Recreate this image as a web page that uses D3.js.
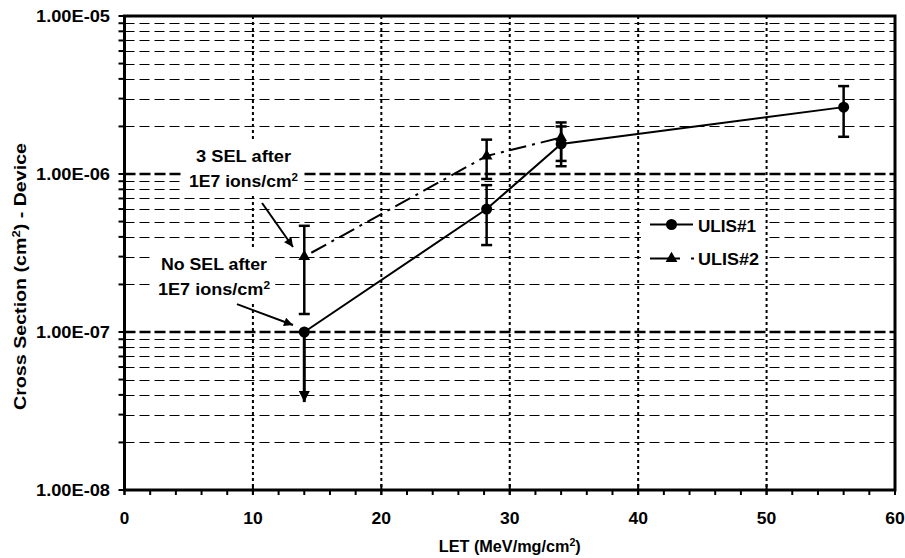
<!DOCTYPE html>
<html>
<head>
<meta charset="utf-8">
<script src="https://cdn.jsdelivr.net/npm/d3@7"></script>
<style>
  html, body { margin: 0; padding: 0; background: #fff; }
  svg { display: block; }
  text { font-family: "Liberation Sans", Arial, sans-serif; font-weight: bold; fill: #000; }
</style>
</head>
<body>
<svg id="chart" width="905" height="558"></svg>
<script>
// ---------------- DATA ----------------
const ulis1Let = [14, 28.2, 34, 56];
const ulis1Cs = [1e-7, 6e-7, 1.55e-6, 2.65e-6];
const ulis1ErrHi = [null, 8.5e-7, 2.12e-6, 3.6e-6];
const ulis1ErrLo = [3.6e-8, 3.55e-7, 1.12e-6, 1.72e-6];
const ulis1LoArrow = [true, false, false, false];

const ulis2Let = [14, 28.2, 34];
const ulis2Cs = [3e-7, 1.3e-6, 1.7e-6];
const ulis2ErrHi = [4.7e-7, 1.65e-6, 2.0e-6];
const ulis2ErrLo = [1.3e-7, 9.3e-7, 1.21e-6];

const seriesNames = ["ULIS#1", "ULIS#2"];

const xTicks = [0, 10, 20, 30, 40, 50, 60];
const xMinorTicks = d3.range(0, 61, 2);
const yTicks = [1e-8, 1e-7, 1e-6, 1e-5];
const yTickLabels = ["1.00E-08", "1.00E-07", "1.00E-06", "1.00E-05"];
const yMinorTicks = [1e-8, 1e-7, 1e-6].flatMap(d => d3.range(2, 10).map(k => k * d));

const xTitle = ["LET (MeV/mg/cm", "2", ")"];
const yTitle = ["Cross Section (cm", "2", ") - Device"];

// annotations: text lines, anchor in data space, arrow from/to in data space
const annotations = [
  { line1: "3 SEL after", line2: "1E7 ions/cm", sup: "2", x: 9.27, y: 1.19e-6,
    w1: 95, w2: 109, from: [10.71, 6.55e-7], to: [13.12, 3.45e-7] },
  { line1: "No SEL after", line2: "1E7 ions/cm", sup: "2", x: 6.97, y: 2.47e-7,
    w1: 106, w2: 112, from: [8.76, 1.5e-7], to: [13.12, 1.107e-7] }
];

// ---------------- LAYOUT ----------------
const svg = d3.select("#chart");
const L = 124.5, R = 895, T = 16, B = 490;
const x = d3.scaleLinear().domain([0, 60]).range([L, R]);
const y = d3.scaleLog().domain([1e-8, 1e-5]).range([B, T]);

function stretch(sel, w) {
  sel.attr("textLength", w).attr("lengthAdjust", "spacingAndGlyphs");
  return sel;
}

const defs = svg.append("defs");
defs.append("marker").attr("id", "arrow")
  .attr("viewBox", "0 0 10 10").attr("refX", 10).attr("refY", 5)
  .attr("markerUnits", "userSpaceOnUse").attr("markerWidth", 11).attr("markerHeight", 9)
  .attr("orient", "auto")
  .append("path").attr("d", "M0,0 L10,5 L0,10 Z").attr("fill", "#000");
defs.append("marker").attr("id", "arrowBig")
  .attr("viewBox", "0 0 10 10").attr("refX", 10).attr("refY", 5)
  .attr("markerUnits", "userSpaceOnUse").attr("markerWidth", 12).attr("markerHeight", 11)
  .attr("orient", "auto")
  .append("path").attr("d", "M0,0 L10,5 L0,10 Z").attr("fill", "#000");

svg.append("rect").attr("width", 905).attr("height", 558).attr("fill", "#fff");

// minor horizontal gridlines
svg.append("g").selectAll("line").data(yMinorTicks).join("line")
  .attr("x1", L).attr("x2", R)
  .attr("y1", d => Math.round(y(d)) + 0.5).attr("y2", d => Math.round(y(d)) + 0.5)
  .attr("stroke", "#000").attr("stroke-width", 1).attr("stroke-dasharray", "10,5");

// major horizontal gridlines
svg.append("g").selectAll("line").data(yTicks.slice(1, 3)).join("line")
  .attr("x1", L).attr("x2", R)
  .attr("y1", d => y(d)).attr("y2", d => y(d))
  .attr("stroke", "#000").attr("stroke-width", 2.5).attr("stroke-dasharray", "11,4");

// vertical gridlines (dotted)
svg.append("g").selectAll("line").data(xTicks.slice(1, -1)).join("line")
  .attr("x1", d => x(d)).attr("x2", d => x(d))
  .attr("y1", T).attr("y2", B)
  .attr("stroke", "#000").attr("stroke-width", 2).attr("stroke-dasharray", "3,3");

// legend background
svg.append("rect").attr("x", 641).attr("y", 211).attr("width", 124).attr("height", 62).attr("fill", "#fff");
// annotation backgrounds layer
const annoBg = svg.append("g");

// x axis ticks
svg.append("g").selectAll("line").data(xMinorTicks).join("line")
  .attr("x1", d => x(d)).attr("x2", d => x(d))
  .attr("y1", B).attr("y2", B + 5)
  .attr("stroke", "#000").attr("stroke-width", 2);
svg.append("g").selectAll("line").data(xTicks).join("line")
  .attr("x1", d => x(d)).attr("x2", d => x(d))
  .attr("y1", B - 6).attr("y2", B + 5)
  .attr("stroke", "#000").attr("stroke-width", 2);

// y axis ticks
svg.append("g").selectAll("line").data(yMinorTicks.concat(yTicks)).join("line")
  .attr("x1", L - 6).attr("x2", L)
  .attr("y1", d => y(d)).attr("y2", d => y(d))
  .attr("stroke", "#000").attr("stroke-width", 2);

// frame
svg.append("rect").attr("x", L).attr("y", T).attr("width", R - L).attr("height", B - T)
  .attr("fill", "none").attr("stroke", "#000").attr("stroke-width", 3);

// tick labels
const xLab = svg.append("g").selectAll("text").data(xTicks).join("text")
  .attr("x", d => x(d)).attr("y", 524).attr("text-anchor", "middle")
  .attr("font-size", 16).text(d => d);
xLab.each(function(d) { stretch(d3.select(this), d === 0 ? 9.5 : 19.5); });

svg.append("g").selectAll("text").data(yTicks).join("text")
  .attr("x", 110).attr("y", d => y(d) + 6).attr("text-anchor", "end")
  .attr("font-size", 16).text((d, i) => yTickLabels[i])
  .call(stretch, 74);

// axis titles
const xt = svg.append("text").attr("x", (L + R) / 2).attr("y", 552).attr("text-anchor", "middle")
  .attr("font-size", 16);
xt.append("tspan").text(xTitle[0]);
xt.append("tspan").attr("font-size", 10.5).attr("dy", -6).text(xTitle[1]);
xt.append("tspan").attr("dy", 6).text(xTitle[2]);
stretch(xt, 142);

const yt = svg.append("text").attr("transform", "translate(25.5,276.5) rotate(-90)")
  .attr("text-anchor", "middle").attr("font-size", 16);
yt.append("tspan").text(yTitle[0]);
yt.append("tspan").attr("font-size", 10.5).attr("dy", -6).text(yTitle[1]);
yt.append("tspan").attr("dy", 6).text(yTitle[2]);
stretch(yt, 267);

// ---------------- SERIES ----------------
const s1 = ulis1Let.map((d, i) => ({ x: d, y: ulis1Cs[i], hi: ulis1ErrHi[i], lo: ulis1ErrLo[i], arrow: ulis1LoArrow[i] }));
const s2 = ulis2Let.map((d, i) => ({ x: d, y: ulis2Cs[i], hi: ulis2ErrHi[i], lo: ulis2ErrLo[i] }));
const line = d3.line().x(d => x(d.x)).y(d => y(d.y));

function errorBars(data) {
  const g = svg.append("g");
  data.forEach(d => {
    const cx = x(d.x);
    if (d.hi != null) {
      g.append("line").attr("x1", cx).attr("x2", cx).attr("y1", y(d.y)).attr("y2", y(d.hi))
        .attr("stroke", "#000").attr("stroke-width", 2.5);
      g.append("line").attr("x1", cx - 5.5).attr("x2", cx + 5.5).attr("y1", y(d.hi)).attr("y2", y(d.hi))
        .attr("stroke", "#000").attr("stroke-width", 2.5);
    }
    if (d.lo != null) {
      if (d.arrow) {
        g.append("line").attr("x1", cx).attr("x2", cx).attr("y1", y(d.y)).attr("y2", y(d.lo))
          .attr("stroke", "#000").attr("stroke-width", 3).attr("marker-end", "url(#arrowBig)");
      } else {
        g.append("line").attr("x1", cx).attr("x2", cx).attr("y1", y(d.y)).attr("y2", y(d.lo))
          .attr("stroke", "#000").attr("stroke-width", 2.5);
        g.append("line").attr("x1", cx - 5.5).attr("x2", cx + 5.5).attr("y1", y(d.lo)).attr("y2", y(d.lo))
          .attr("stroke", "#000").attr("stroke-width", 2.5);
      }
    }
  });
}
errorBars(s2);
errorBars(s1);

svg.append("path").datum(s2).attr("d", line).attr("fill", "none")
  .attr("stroke", "#000").attr("stroke-width", 2).attr("stroke-dasharray", "17,6,3,6")
  .attr("stroke-dashoffset", -8);
svg.append("path").datum(s1).attr("d", line).attr("fill", "none")
  .attr("stroke", "#000").attr("stroke-width", 2);

const tri = d3.symbol().type(d3.symbolTriangle).size(60);
svg.append("g").selectAll("path").data(s2).join("path")
  .attr("d", tri).attr("transform", d => `translate(${x(d.x)},${y(d.y)})`).attr("fill", "#000");
svg.append("g").selectAll("circle").data(s1).join("circle")
  .attr("cx", d => x(d.x)).attr("cy", d => y(d.y)).attr("r", 5.5).attr("fill", "#000");

// ---------------- LEGEND ----------------
const lg = svg.append("g");
lg.append("line").attr("x1", 650).attr("x2", 693).attr("y1", 224.5).attr("y2", 224.5)
  .attr("stroke", "#000").attr("stroke-width", 2);
lg.append("circle").attr("cx", 671.5).attr("cy", 224.5).attr("r", 5.5).attr("fill", "#000");
lg.append("text").attr("x", 698).attr("y", 231.5).attr("font-size", 16).text(seriesNames[0]).call(stretch, 58);
lg.append("line").attr("x1", 650).attr("x2", 694).attr("y1", 258.5).attr("y2", 258.5)
  .attr("stroke", "#000").attr("stroke-width", 2).attr("stroke-dasharray", "30,11,3");
lg.append("path").attr("d", tri).attr("transform", "translate(671.5,258.5)").attr("fill", "#000");
lg.append("text").attr("x", 698).attr("y", 265).attr("font-size", 16).text(seriesNames[1]).call(stretch, 61);

// ---------------- ANNOTATIONS ----------------
annotations.forEach(a => {
  const ax = x(a.x), ay = y(a.y);
  const g = svg.append("g");
  g.append("text").attr("x", ax).attr("y", ay).attr("text-anchor", "middle")
    .attr("font-size", 16).text(a.line1).call(stretch, a.w1);
  const t2 = g.append("text").attr("x", ax).attr("y", ay + 25).attr("text-anchor", "middle")
    .attr("font-size", 16);
  t2.append("tspan").text(a.line2);
  t2.append("tspan").attr("font-size", 10.5).attr("dy", -6).text(a.sup);
  stretch(t2, a.w2);
  const bb = g.node().getBBox();
  annoBg.append("rect").attr("x", bb.x - 5).attr("y", bb.y - 7)
    .attr("width", bb.width + 10).attr("height", bb.height + 12).attr("fill", "#fff");
  svg.append("line").attr("x1", x(a.from[0])).attr("y1", y(a.from[1]))
    .attr("x2", x(a.to[0])).attr("y2", y(a.to[1]))
    .attr("stroke", "#000").attr("stroke-width", 2).attr("marker-end", "url(#arrow)");
});
</script>
</body>
</html>
